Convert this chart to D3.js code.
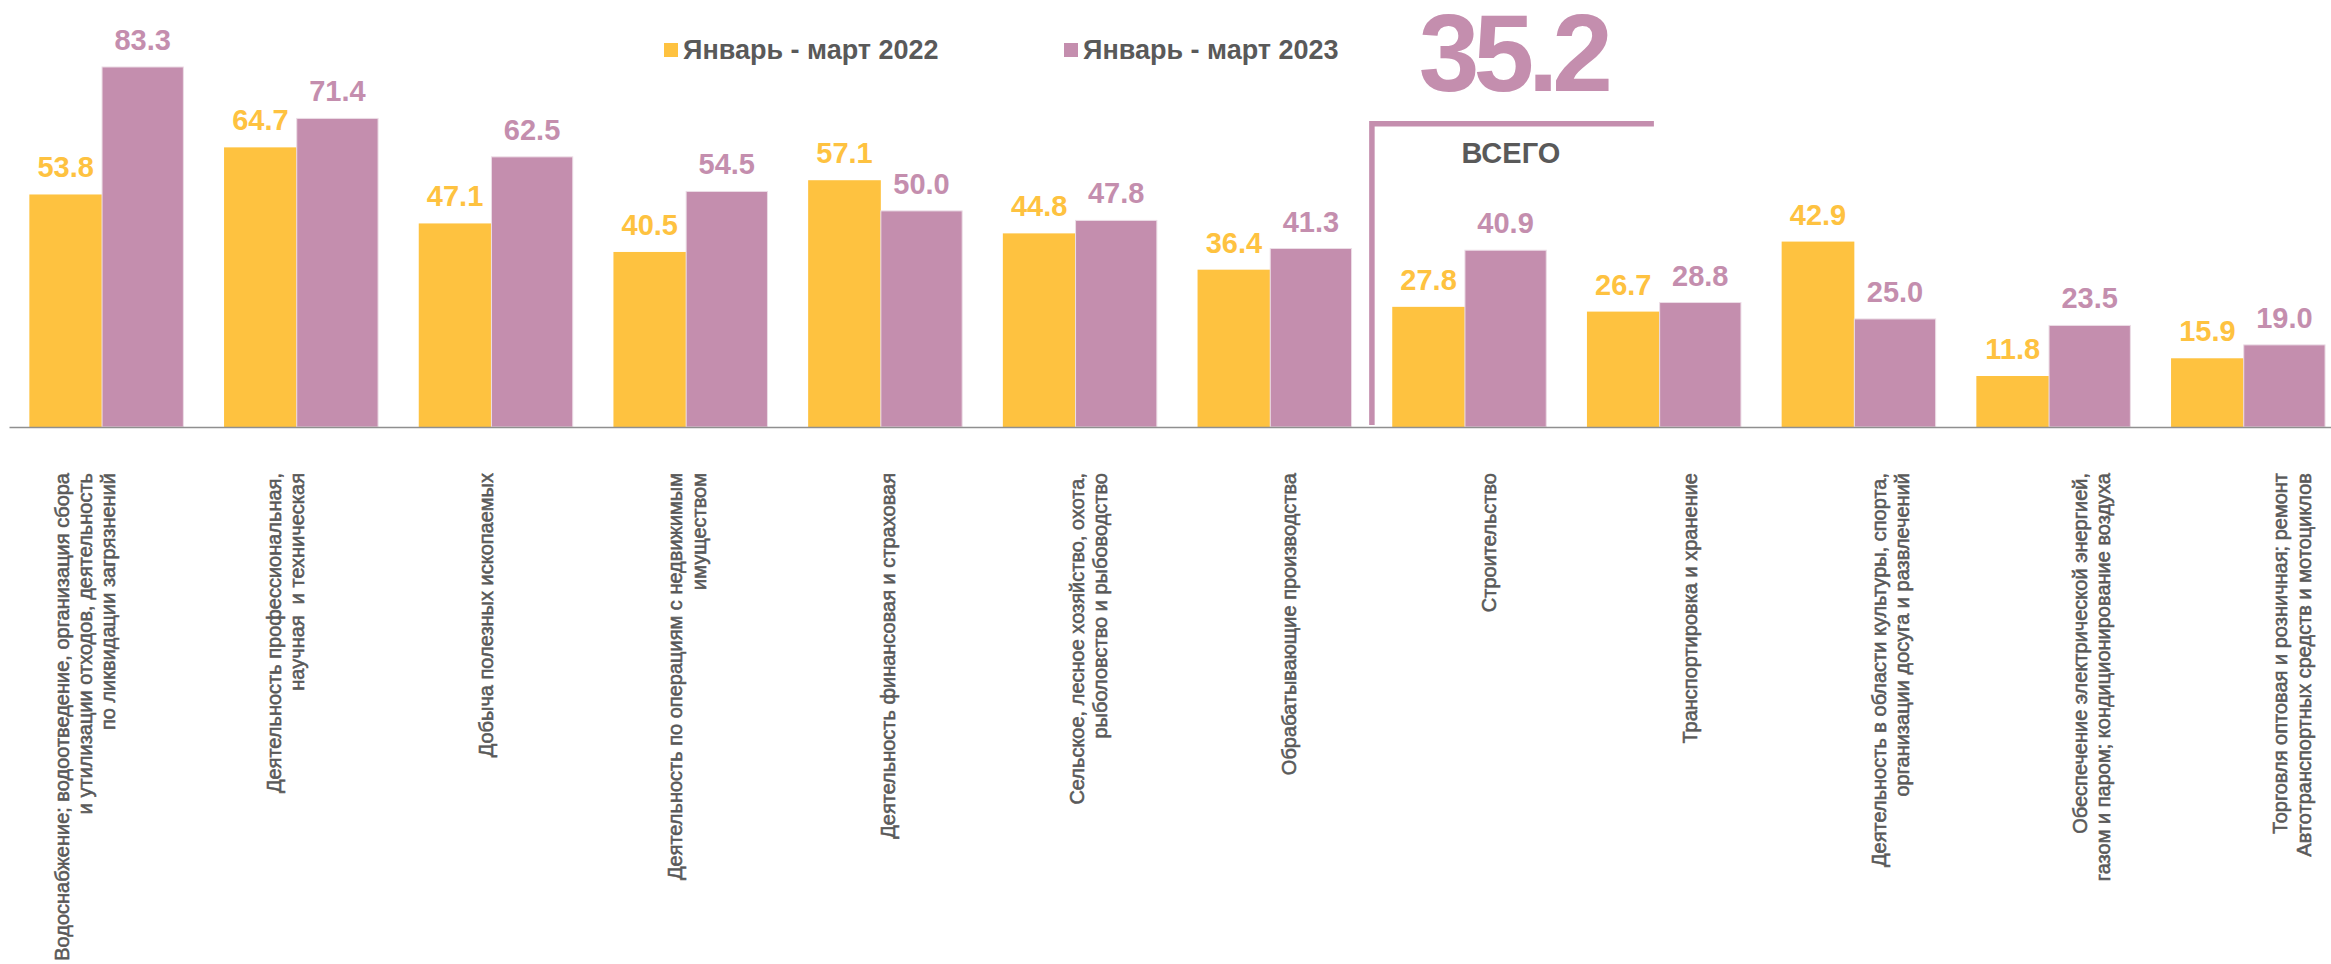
<!DOCTYPE html>
<html>
<head>
<meta charset="utf-8">
<script src="https://cdn.jsdelivr.net/npm/d3@7"></script>
<style>
  html, body { margin: 0; padding: 0; background: #fff; }
  svg { display: block; font-family: "Liberation Sans", Arial, sans-serif; }
</style>
</head>
<body>
<script>
(function(){
'use strict';

var categories = [
  ['Водоснабжение; водоотведение, организация сбора', 'и утилизации отходов, деятельность', 'по ликвидации загрязнений'],
  ['Деятельность профессиональная,', 'научная  и техническая'],
  ['Добыча полезных ископаемых'],
  ['Деятельность по операциям с недвижимым', 'имуществом'],
  ['Деятельность финансовая и страховая'],
  ['Сельское, лесное хозяйство, охота,', 'рыболовство и рыбоводство'],
  ['Обрабатывающие производства'],
  ['Строительство'],
  ['Транспортировка и хранение'],
  ['Деятельность в области культуры, спорта,', 'организации досуга и развлечений'],
  ['Обеспечение электрической энергией,', 'газом и паром; кондиционирование воздуха'],
  ['Торговля оптовая и розничная; ремонт', 'Автотранспортных средств и мотоциклов']
];
var values2022 = [53.8, 64.7, 47.1, 40.5, 57.1, 44.8, 36.4, 27.8, 26.7, 42.9, 11.8, 15.9];
var values2023 = [83.3, 71.4, 62.5, 54.5, 50.0, 47.8, 41.3, 40.9, 28.8, 25.0, 23.5, 19.0];
var seriesNames = ['Январь - март 2022', 'Январь - март 2023'];
var totalValue = '35.2';
var totalLabel = 'ВСЕГО';

var colors = ['#fec240', '#c48eae'];
var textGray = '#595959';

var width = 2331;
var height = 964;
var baseY = 427;

var svg = d3.select('body').append('svg')
            .attr('width', width)
            .attr('height', height);

var keys = categories.map(function(d, i){ return i; });

var x0 = d3.scaleBand()
           .domain(keys)
           .range([9, 9 + 194.7 * keys.length])
           .paddingInner(0.209)
           .paddingOuter(0.1045);

// yellow bar is a bit narrower than the purple one in the original
var x1 = d3.scaleLinear().domain([0, 1]).range([0, x0.bandwidth()]);
var split = 0.472;

var y = d3.scaleLinear().domain([0, 90]).range([baseY, baseY - 90 * 4.322]);

var rows = keys.map(function(i){
  return {i: i, a: values2022[i], b: values2023[i]};
});

var groups = svg.selectAll('g.cat')
                .data(rows)
                .enter()
                .append('g')
                .attr('class', 'cat')
                .attr('transform', function(d){ return 'translate(' + x0(d.i) + ',0)'; });

groups.append('rect')
      .attr('x', x1(0))
      .attr('y', function(d){ return y(d.a); })
      .attr('width', x1(split) - x1(0))
      .attr('height', function(d){ return y(0) - y(d.a); })
      .attr('fill', colors[0]);

groups.append('rect')
      .attr('x', x1(split))
      .attr('y', function(d){ return y(d.b); })
      .attr('width', x1(1) - x1(split))
      .attr('height', function(d){ return y(0) - y(d.b); })
      .attr('fill', colors[1])
      .attr('stroke', '#ecdde6')
      .attr('stroke-width', 1);

groups.append('text')
      .attr('x', (x1(0) + x1(split)) / 2)
      .attr('y', function(d){ return y(d.a) - 17; })
      .attr('text-anchor', 'middle')
      .attr('font-size', 29)
      .attr('font-weight', 'bold')
      .attr('fill', colors[0])
      .text(function(d){ return d.a.toFixed(1); });

groups.append('text')
      .attr('x', (x1(split) + x1(1)) / 2)
      .attr('y', function(d){ return y(d.b) - 17; })
      .attr('text-anchor', 'middle')
      .attr('font-size', 29)
      .attr('font-weight', 'bold')
      .attr('fill', colors[1])
      .text(function(d){ return d.b.toFixed(1); });

// axis line only
var axis = svg.append('g')
              .attr('transform', 'translate(0,' + baseY + ')')
              .call(d3.axisBottom(x0).tickSize(0).tickSizeOuter(0).tickFormat(''));
axis.select('.domain').attr('stroke', '#8f8f8f').attr('stroke-width', 1.5);

// rotated category labels
var lx = d3.scalePoint().domain(keys).range([85, 2292]);
var lineH = 23.3;
var labels = svg.selectAll('g.lab')
                .data(categories)
                .enter()
                .append('g')
                .attr('class', 'lab')
                .attr('transform', function(d, i){ return 'translate(' + lx(i) + ',473) rotate(-90)'; })
                .append('text')
                .attr('text-anchor', 'end')
                .attr('font-size', 20)
                .attr('fill', textGray)
                .attr('stroke', textGray)
                .attr('stroke-width', 0.55);

labels.selectAll('tspan')
      .data(function(d){ return d.map(function(t, k){ return {t: t, k: k, n: d.length}; }); })
      .enter()
      .append('tspan')
      .attr('x', 0)
      .attr('y', function(d){ return (d.k - (d.n - 1) / 2) * lineH + 7; })
      .attr('xml:space', 'preserve')
      .text(function(d){ return d.t; });

// legend
var legendX = [664, 1064];
var legend = svg.selectAll('g.leg')
                .data(seriesNames)
                .enter()
                .append('g')
                .attr('class', 'leg')
                .attr('transform', function(d, i){ return 'translate(' + legendX[i] + ',0)'; });
legend.append('rect')
      .attr('x', 0).attr('y', 43).attr('width', 14).attr('height', 14)
      .attr('fill', function(d, i){ return colors[i]; });
legend.append('text')
      .attr('x', 19).attr('y', 59)
      .attr('font-size', 27)
      .attr('font-weight', 'bold')
      .attr('fill', textGray)
      .text(function(d){ return d; });

// total bracket
var bx = x0(7) - x0.step() * x0.paddingInner() / 2;
var bRight = bx + 282;
var bTop = 123.7;
svg.append('path')
   .attr('d', 'M' + bx + ',' + (baseY - 2) + 'V' + bTop + 'H' + bRight)
   .attr('fill', 'none')
   .attr('stroke', colors[1])
   .attr('stroke-width', 5.5);

var bMid = (bx + bRight) / 2;
svg.append('text')
   .attr('x', bMid)
   .attr('y', 91)
   .attr('text-anchor', 'middle')
   .attr('font-size', 109)
   .attr('font-weight', 'bold')
   .attr('letter-spacing', -6)
   .attr('fill', colors[1])
   .text(totalValue);

svg.append('text')
   .attr('x', bMid - 2)
   .attr('y', 163)
   .attr('text-anchor', 'middle')
   .attr('font-size', 29)
   .attr('font-weight', 'bold')
   .attr('fill', textGray)
   .text(totalLabel);

})();
</script>
</body>
</html>
